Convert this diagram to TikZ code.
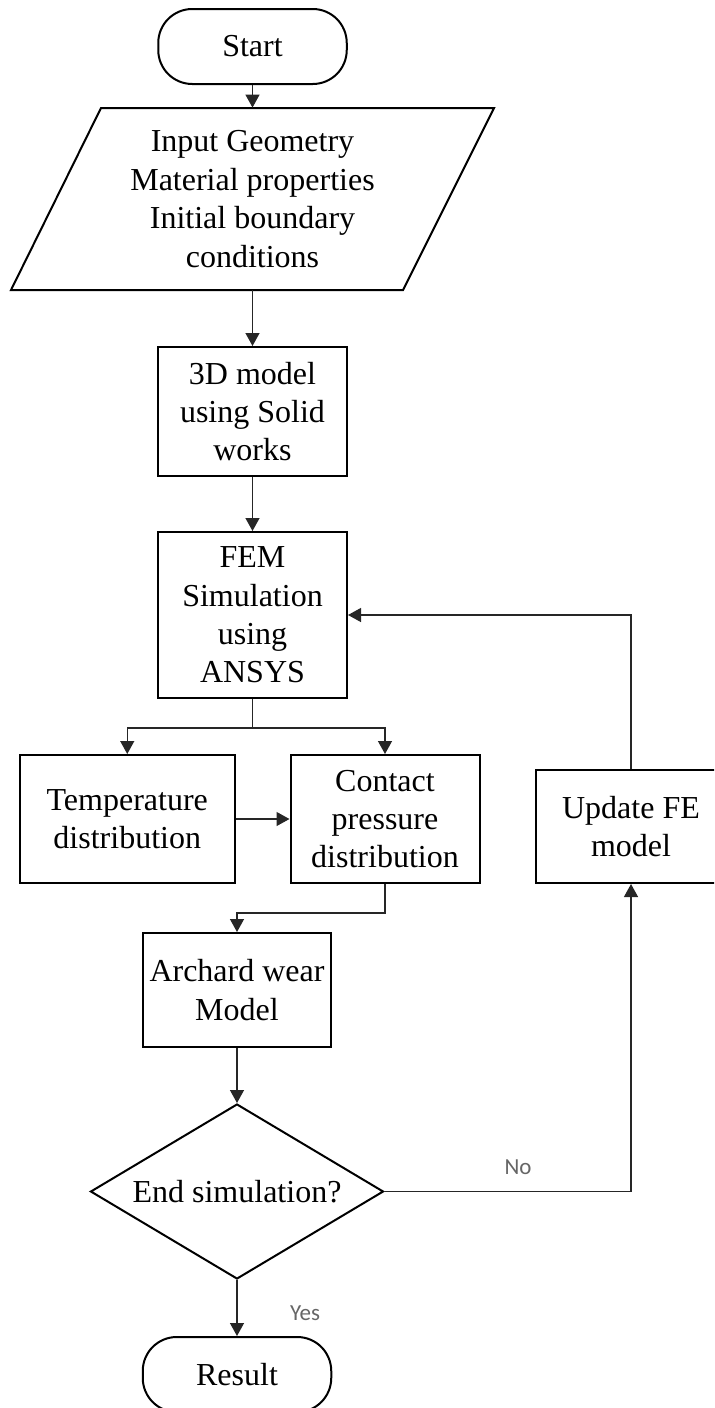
\documentclass[tikz,border=0pt]{standalone}
\usepackage{fontspec}
\setmainfont{Liberation Serif}
\newfontfamily\labelfont{Carlito}
\usepackage{tikz}
\usetikzlibrary{arrows.meta}
\usetikzlibrary{shapes.geometric}

\begin{document}
\begin{tikzpicture}[x=0.5pt,y=-0.5pt,
    every node/.style={font=\fontsize{16}{19.2}\selectfont, align=center},
    box/.style={draw, line width=1pt, inner sep=0pt},
    term/.style={box, rounded corners=17pt, minimum width=94.25pt, minimum height=37.5pt},
    decision/.style={box, diamond, aspect=1.674, minimum width=146.5pt, minimum height=87.5pt},
    line/.style={draw=black!85, line width=0.65pt, -{Triangle[length=6.5pt,width=7pt]}},
    lbl/.style={font=\labelfont\fontsize{11.5}{13}\selectfont, text=black!60}]
    \clip (0,0) rectangle (714,1408);

    \node[term] (start) at (252.5,46.5) {Start};
    \draw[box] (101,108) -- (494,108) -- (403,290) -- (11,290) -- cycle;
    \node[inner sep=0pt, minimum height=91pt] (input) at (252.5,199)
      {Input Geometry\\Material properties\\Initial boundary\\conditions};
    \node[box, minimum width=94.5pt, minimum height=64.5pt] (model) at (252.5,411.5)
      {3D model\\using Solid\\works};
    \node[box, minimum width=94.5pt, minimum height=83pt] (fem) at (252.5,615)
      {FEM\\Simulation\\using\\ANSYS};
    \node[box, minimum width=107.25pt, minimum height=64pt] (temp) at (127.25,819)
      {Temperature\\distribution};
    \node[box, minimum width=94.5pt, minimum height=64pt] (contact) at (385,819)
      {Contact\\pressure\\distribution};
    \node[box, minimum width=95pt, minimum height=56.5pt] (update) at (631,826.5)
      {Update FE\\model};
    \node[box, minimum width=94.25pt, minimum height=57pt] (wear) at (237,990)
      {Archard wear\\Model};
    \node[decision] (endsim) at (237,1191.5) {End simulation?};
    \node[term] (result) at (237,1374.5) {Result};

    \draw[line] (start) -- (input);
    \draw[line] (input) -- (model);
    \draw[line] (model) -- (fem);
    \draw[line] (fem.south) -- ++(0,29) -| (temp);
    \draw[line] (fem.south) -- ++(0,29) -| (contact);
    \draw[line] (temp) -- (contact);
    \draw[line] (contact.south) -- ++(0,29) -| (wear);
    \draw[line] (wear) -- (endsim);
    \draw[line] (endsim) -- (result);
    \draw[line] (endsim.east) -| (update.south);
    \draw[line] (update.north) |- (fem.east);

    \node[lbl] (no) at (518,1167) {No};
    \node[lbl] (yes) at (305,1313) {Yes};
\end{tikzpicture}
\end{document}
